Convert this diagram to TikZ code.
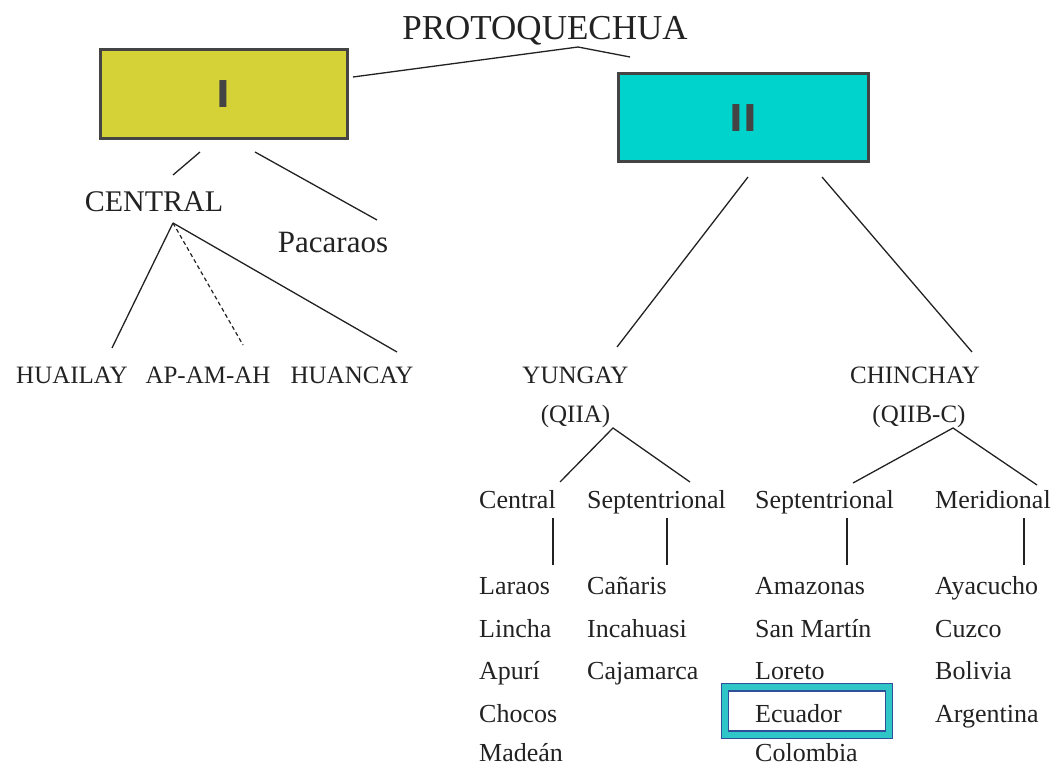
\documentclass[tikz,border=0pt]{standalone}
\usepackage{fontspec}
\setmainfont{Liberation Serif}
\newfontfamily\boxfont{DejaVu Sans}
\definecolor{boxyellow}{HTML}{D4D236}
\definecolor{boxcyan}{HTML}{00D3CB}
\definecolor{edgegray}{HTML}{444444}
\definecolor{ecblue}{HTML}{2F4F9A}
\definecolor{ecteal}{HTML}{2EC6C6}
\definecolor{ink}{HTML}{222222}
\begin{document}
\begin{tikzpicture}[x=1pt,y=-1pt]
\useasboundingbox (0,0) rectangle (1053,767);
\tikzset{
  romanbox/.style={draw=edgegray, line width=3pt, minimum width=247pt, minimum height=89pt, inner sep=0pt,
    font=\boxfont\bfseries\fontsize{37}{37}\selectfont, text=edgegray},
  lbl/.style={inner sep=0pt, anchor=base, text=ink},
  lblw/.style={inner sep=0pt, anchor=base west, text=ink, font=\fontsize{26}{30}\selectfont},
  caps/.style={font=\fontsize{25}{30}\selectfont},
  conn/.style={draw=ink, line width=1.3pt},
  dconn/.style={conn, dashed, dash pattern=on 4pt off 3pt, line width=1.2pt}
}
% boxes
\node[romanbox, fill=boxyellow] (b1) at (223.5,94) {I};
\node[romanbox, fill=boxcyan, minimum width=250pt, minimum height=88pt] (b2) at (743,118) {II};

% top label
\node[lbl, font=\fontsize{35}{40}\selectfont] (proto) at (545,40) {PROTOQUECHUA};
\coordinate (pk) at (578,47);
\coordinate (b1r) at (353,77);
\coordinate (b2t) at (630,57);
\draw[conn] (b1r) -- (pk) -- (b2t);

% branch I
\node[lbl, font=\fontsize{30}{34}\selectfont] (central) at (154,212) {CENTRAL};
\node[lbl, font=\fontsize{31}{34}\selectfont] (pacaraos) at (333,253) {Pacaraos};
\coordinate (b1a) at (200,152);
\coordinate (b1b) at (255,152);
\coordinate (cenA) at (173,223);
\coordinate (cenE) at (173,175);
\coordinate (pacE) at (377,220);
\draw[conn] (b1a) -- (cenE);
\draw[conn] (b1b) -- (pacE);

\node[lbl, caps] (huailay) at (72,384) {HUAILAY};
\node[lbl, caps] (apam) at (208,384) {AP-AM-AH};
\node[lbl, caps] (huancay) at (352,384) {HUANCAY};
\coordinate (huaE) at (112,348);
\coordinate (apE) at (243,345);
\coordinate (hncE) at (397,352);
\draw[conn] (cenA) -- (huaE);
\draw[dconn] (cenA) -- (apE);
\draw[conn] (cenA) -- (hncE);

% branch II
\node[lbl, caps] (yungay) at (575.5,384) {YUNGAY};
\node[lbl, caps] (qiia) at (575.5,423) {(QIIA)};
\node[lbl, caps] (chinchay) at (915,384) {CHINCHAY};
\node[lbl, caps] (qiib) at (919,423) {(QIIB-C)};
\coordinate (b2a) at (748,177);
\coordinate (b2b) at (822,177);
\coordinate (yunE) at (617,347);
\coordinate (chiE) at (972,352);
\draw[conn] (b2a) -- (yunE);
\draw[conn] (b2b) -- (chiE);

% sub-branches
\node[lblw] (ycen) at (479,508) {Central};
\node[lblw] (ysep) at (587,508) {Septentrional};
\node[lblw] (csep) at (755,508) {Septentrional};
\node[lblw] (cmer) at (935,508) {Meridional};
\coordinate (qaA) at (613,428);
\coordinate (qbA) at (953,428);
\coordinate (ycenE) at (560,482);
\coordinate (ysepE) at (690,482);
\coordinate (csepE) at (853,483);
\coordinate (cmerE) at (1037,485);
\draw[conn] (ycenE) -- (qaA) -- (ysepE);
\draw[conn] (csepE) -- (qbA) -- (cmerE);

% Ecuador highlight
\node[draw=ecblue, fill=ecteal, line width=1.5pt, minimum width=171pt, minimum height=55pt, inner sep=0pt] (ecout) at (807,711) {};
\node[draw=ecblue, fill=white, line width=1.8pt, minimum width=157pt, minimum height=40pt, inner sep=0pt] (ecin) at (807,711) {};

% lists
\node[lblw] (laraos) at (479,594) {Laraos};
\node[lblw] (lincha) at (479,637) {Lincha};
\node[lblw] (apuri) at (479,679) {Apurí};
\node[lblw] (chocos) at (479,722) {Chocos};
\node[lblw] (madean) at (479,761) {Madeán};

\node[lblw] (canaris) at (587,594) {Cañaris};
\node[lblw] (incahuasi) at (587,637) {Incahuasi};
\node[lblw] (cajamarca) at (587,679) {Cajamarca};

\node[lblw] (amazonas) at (755,594) {Amazonas};
\node[lblw] (sanmartin) at (755,637) {San Martín};
\node[lblw] (loreto) at (755,679) {Loreto};
\node[lblw] (ecuador) at (755,722) {Ecuador};
\node[lblw] (colombia) at (755,761) {Colombia};

\node[lblw] (ayacucho) at (935,594) {Ayacucho};
\node[lblw] (cuzco) at (935,637) {Cuzco};
\node[lblw] (bolivia) at (935,679) {Bolivia};
\node[lblw] (argentina) at (935,722) {Argentina};

% vertical connectors
\coordinate (v1t) at (553,518); \coordinate (v1b) at (553,565);
\coordinate (v2t) at (667,518); \coordinate (v2b) at (667,565);
\coordinate (v3t) at (847,518); \coordinate (v3b) at (847,565);
\coordinate (v4t) at (1024,518); \coordinate (v4b) at (1024,565);
\draw[conn] (v1t) -- (v1b);
\draw[conn] (v2t) -- (v2b);
\draw[conn] (v3t) -- (v3b);
\draw[conn] (v4t) -- (v4b);
\end{tikzpicture}
\end{document}
